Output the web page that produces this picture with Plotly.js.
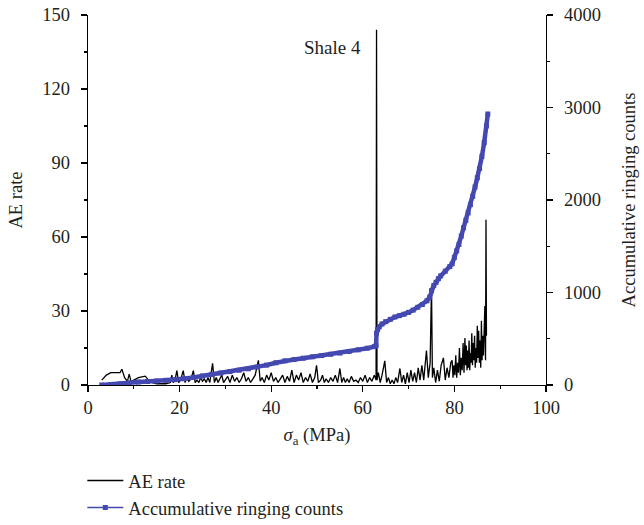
<!DOCTYPE html>
<html>
<head>
<meta charset="utf-8">
<script src="https://cdn.plot.ly/plotly-3.0.1.min.js"></script>
<style>html,body{margin:0;padding:0;background:#fff;}#chart{width:644px;height:525px;}</style>
</head>
<body>
<div id="chart"></div>
<script>
// AE rate (left axis)
const aeX = [3.0,4.0,5.0,6.0,7.0,7.4,8.0,8.6,9.0,9.4,10,11,12.5,13.5,14,15,16,17,18,18.3,18.6,19,19.4,19.8,20.2,20.8,21.2,21.6,22,22.5,23,23.4,23.8,24.2,24.6,25,25.4,25.8,26.2,26.6,27.2,27.6,28,28.4,28.8,29.2,29.6,30,30.5,31,31.5,32,32.5,33,33.5,34,34.5,35,35.5,36,36.5,37.2,37.6,38,38.5,39,39.5,40,40.5,41,41.5,42,42.5,43,43.5,44,44.5,45,45.5,46,46.5,47,47.5,48,48.5,49,49.5,49.9,50.3,50.8,51.2,51.6,52,52.5,53,53.5,54,54.5,55,55.4,55.8,56.2,56.6,57,57.5,58,58.5,59,59.5,60,60.5,61,61.5,62,62.5,62.9,63.0,63.1,63.4,63.8,64.2,64.8,65.2,65.6,66,66.4,66.8,67.2,67.6,68.1,68.5,68.9,69.3,69.7,70.1,70.5,70.9,71.3,71.7,72.1,72.5,72.9,73.3,73.9,74.3,74.7,75.0,75.2,75.5,75.9,76.3,76.7,77.1,77.6,78,78.4,78.8,79.2,79.5,79.7,79.9,80.1,80.3,80.5,80.7,80.9,81.1,81.3,81.5,81.7,81.9,82.1,82.3,82.45,82.6,82.75,82.9,83.05,83.2,83.35,83.5,83.65,83.8,83.95,84.1,84.25,84.4,84.55,84.7,84.85,85,85.15,85.3,85.45,85.6,85.75,85.9,86.05,86.2,86.35,86.5,86.65,86.8,86.9,87.0,87.1,87.2];
const aeY = [2,4,5,5,5,6.4,3,1.5,4.4,1.4,2,3,3.6,1.4,1,0.5,0.5,0.5,1,4,1,2,5.8,1,2,5.8,1,3,1.5,2.5,5.8,1,2,1,3,1.5,2.5,1,3,1,8.8,1,3,1,2.5,4,1,2,3.5,1,4,1.5,3,1,2.5,5,1.5,3,1,2.5,4,10,1.5,3,1,4,2,5,1.5,3,1,2.5,4,1,3.5,1.5,6,1,4,2,5,1,3,1.5,4.5,1,3,8,1,2,4,1,2.5,1,3,1.5,4,1,6.7,1,3,1,2.5,1,3.5,1.5,2,1,3,1.5,4,1,3,1.5,4,2,144,2,5,1,4,9.8,1,3,0.5,2,0.5,3,1,6.7,1,4,0.5,5,1,6,1.5,5,1,7,2,8,2,14,3,9,40,3,7,1,6,1.5,8,11,2,7,3,9,10,3,8,4,12,3,9,5,15,4,11,6,17,5,19,8,16,6,14,7,18,6,13,9,21,8,17,10,20,7,15,9,24,11,22,9,18,7,26,10,20,12,28,32,10,67,20];

// Accumulative ringing counts (right axis)
const cumX = [3,5,7,9,11,13,15,17,19,21,23,25,27,29,31,33,35,37,39,41,43,45,47,49,51,53,55,57,59,61,62.5,62.9,63.0,63.2,63.6,64.2,65,66,67,68,69,70,71,72,73,74,74.6,75,75.5,76,76.5,77,78,79,79.5,80,80.5,81,81.5,82,82.5,83,83.5,84,84.5,85,85.5,86,86.5,87,87.3];
const cumY = [0,5,12,22,32,38,43,50,57,68,82,98,115,130,145,160,175,195,215,240,262,275,290,305,318,332,345,362,380,398,415,425,560,600,630,660,685,710,735,750,765,785,810,840,870,910,950,1020,1075,1110,1150,1180,1230,1280,1310,1380,1450,1520,1610,1700,1780,1860,1950,2040,2140,2240,2340,2470,2620,2800,2930];

const xTicks = [0,20,40,60,80,100];
const yTicks = [0,30,60,90,120,150];
const y2Ticks = [0,1000,2000,3000,4000];

const blue = '#4349B0';
const ink = '#231f20';
const serif = 'Liberation Serif, Times New Roman, serif';
const fs = 18.5;

const traces = [
  {x: aeX, y: aeY, type: 'scatter', mode: 'lines', name: 'AE rate',
   line: {color: '#000', width: 1.3}, yaxis: 'y'},
  // thick band of the accumulative curve
  {x: cumX, y: cumY, type: 'scatter', mode: 'lines', name: 'Accumulative ringing counts',
   line: {color: blue, width: 4.5}, yaxis: 'y2', showlegend: false},
  // same series with its square markers (carries the legend entry)
  {x: cumX, y: cumY, type: 'scatter', mode: 'lines+markers', name: 'Accumulative ringing counts',
   line: {color: blue, width: 1.5}, marker: {symbol: 'square', size: 5, color: blue}, yaxis: 'y2'}
];

const axisCommon = {
  showline: true, linecolor: '#000', linewidth: 1.2, ticks: 'outside', ticklen: 6, tickwidth: 1.2,
  tickcolor: '#000', showgrid: false, zeroline: false, tickfont: {family: serif, size: fs, color: ink}
};

const layout = {
  width: 644, height: 525,
  margin: {l: 88, r: 98, t: 15, b: 140, autoexpand: false},
  paper_bgcolor: '#fff', plot_bgcolor: '#fff',
  font: {family: serif, color: ink},
  showlegend: true,
  legend: {x: -0.0124, xanchor: 'left', y: -0.208, yanchor: 'top', font: {family: serif, size: fs, color: ink},
           bgcolor: 'rgba(0,0,0,0)', itemwidth: 36, tracegroupgap: 0},
  xaxis: Object.assign({}, axisCommon, {range: [0, 100], tickvals: xTicks, ticktext: xTicks.map(String),
    minor: {dtick: 10, ticklen: 3, tickcolor: '#000', ticks: 'outside'},
    title: {text: '<i>σ</i><sub>a</sub> (MPa)', font: {family: serif, size: fs, color: ink}, standoff: 10}}),
  yaxis: Object.assign({}, axisCommon, {range: [0, 150], tickvals: yTicks, ticktext: yTicks.map(String),
    ticklabelstandoff: 7,
    minor: {dtick: 15, ticklen: 3, tickcolor: '#000', ticks: 'outside'},
    title: {text: 'AE rate', font: {family: serif, size: fs, color: ink}, standoff: 14}}),
  yaxis2: Object.assign({}, axisCommon, {range: [0, 4000], overlaying: 'y', side: 'right',
    tickvals: y2Ticks, ticktext: y2Ticks.map(String), ticklabelstandoff: 7,
    minor: {dtick: 500, ticklen: 3, tickcolor: '#000', ticks: 'outside'},
    title: {text: 'Accumulative ringing counts', font: {family: serif, size: fs, color: ink}, standoff: 22}}),
  annotations: [{x: 60, y: 137, xref: 'x', yref: 'y', text: 'Shale 4', showarrow: false, xanchor: 'right',
    font: {family: serif, size: 19, color: ink}}]
};

Plotly.newPlot('chart', traces, layout, {displayModeBar: false, staticPlot: true});
</script>
</body>
</html>
